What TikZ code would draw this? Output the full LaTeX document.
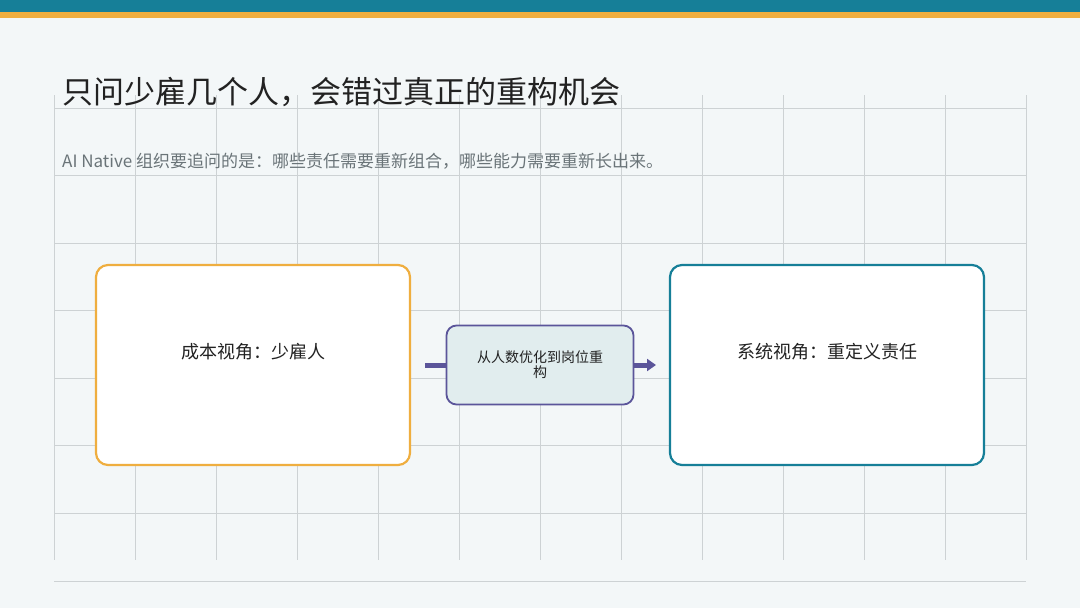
\documentclass[tikz,border=0pt]{standalone}
\usepackage{fontspec}
\setmainfont{Noto Sans CJK SC}
\usetikzlibrary{arrows.meta}
\definecolor{bg}{HTML}{F3F7F8}
\definecolor{teal}{HTML}{167F98}
\definecolor{org}{HTML}{EFAE3F}
\definecolor{grid}{HTML}{CDD2D4}
\definecolor{pur}{HTML}{5B559A}
\definecolor{mid}{HTML}{E1EDEE}
\definecolor{txt}{HTML}{222222}
\definecolor{sub}{HTML}{6A7478}
\begin{document}
\begin{tikzpicture}[x=1pt,y=-1pt,
  big/.style={draw,line width=2.2pt,rounded corners=12pt,fill=white,minimum width=314pt,minimum height=200pt,font=\fontsize{18}{21}\selectfont,text=txt,text depth=28pt},
  midb/.style={draw=pur,line width=1.8pt,rounded corners=10pt,fill=mid,minimum width=187pt,minimum height=79pt,align=center,font=\fontsize{14}{15}\selectfont,text=txt}]
\fill[bg] (0,0) rectangle (1080,608);
\useasboundingbox (0,0) rectangle (1080,608);
\fill[teal] (0,0) rectangle (1080,12);
\fill[org] (0,12) rectangle (1080,17.5);
\foreach \k in {0,...,12} \draw[grid,line width=0.8pt] (54+81*\k,95) -- (54+81*\k,560);
\foreach \k in {0,...,6} \draw[grid,line width=0.8pt] (54,108+67.5*\k) -- (1026,108+67.5*\k);
\draw[grid,line width=1pt] (54,581) -- (1026,581);
\node[anchor=west,inner sep=0,font=\fontsize{31}{36}\selectfont,text=txt] (title) at (62,92) {只问少雇几个人，会错过真正的重构机会};
\node[anchor=west,inner sep=0,font=\fontsize{17}{20}\selectfont,text=sub] (subt) at (62,161) {AI Native 组织要追问的是：哪些责任需要重新组合，哪些能力需要重新长出来。};
\node[big,draw=org] (a) at (253,365) {成本视角：少雇人};
\node[big,draw=teal] (c) at (827,365) {系统视角：重定义责任};
\node[midb] (b) at (540,365) {从人数优化到岗位重\\构};
\draw[pur,line width=5pt] (425,365) -- (b.west);
\draw[pur,line width=5pt,-{Triangle[length=9pt,width=12pt]}] (b.east) -- (656,365);
\end{tikzpicture}
\end{document}
